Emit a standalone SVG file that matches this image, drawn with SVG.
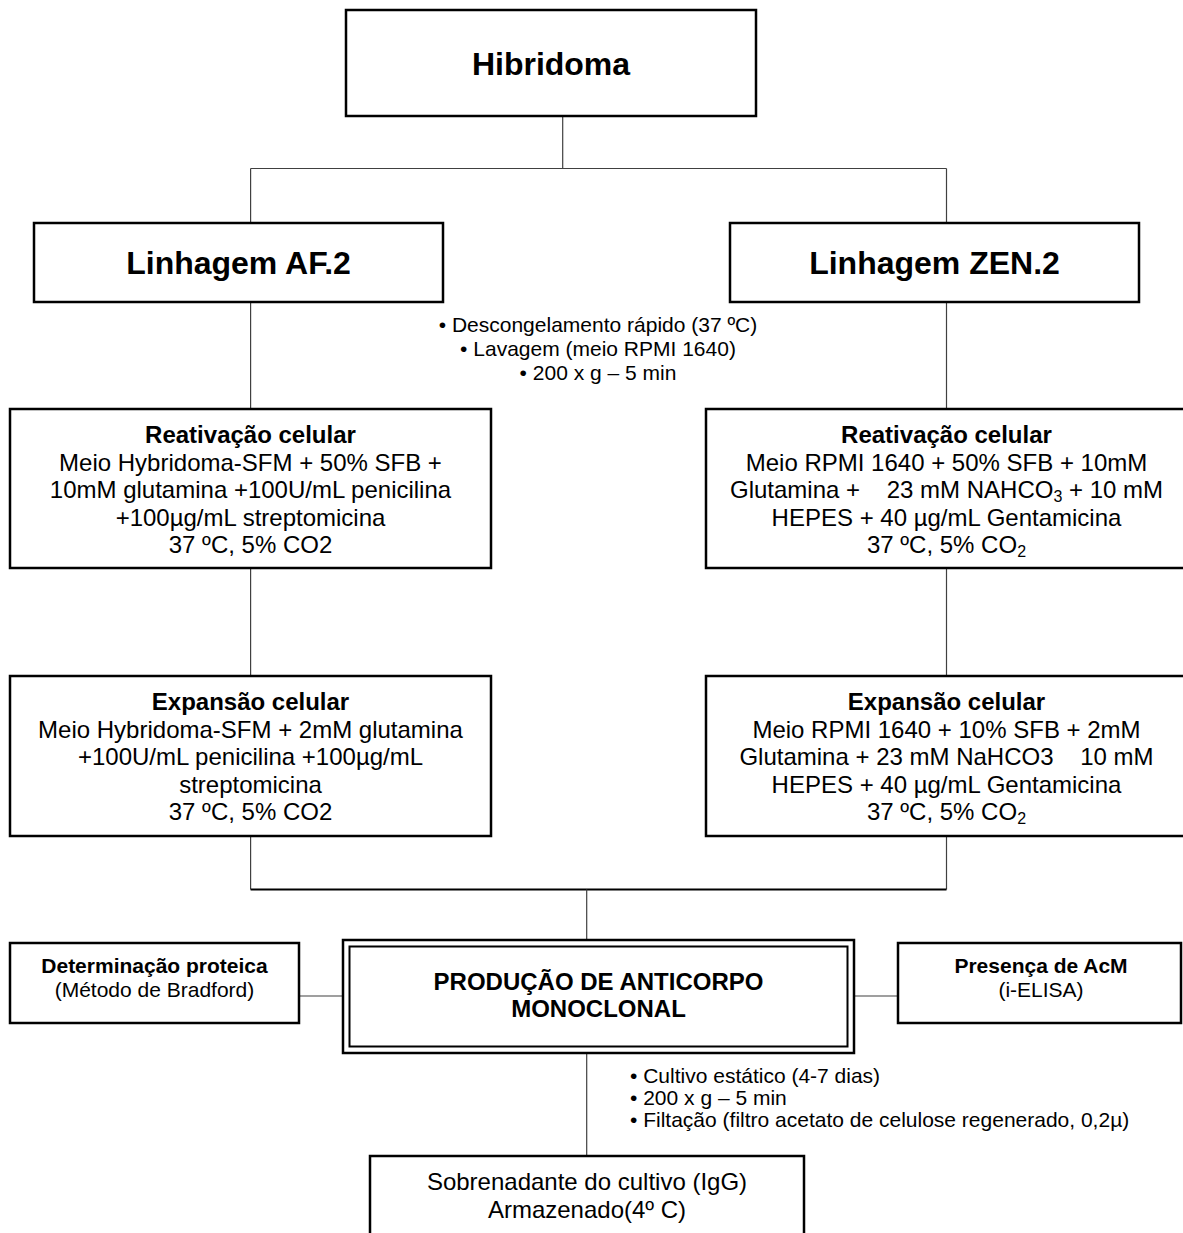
<svg xmlns="http://www.w3.org/2000/svg" width="1183" height="1233" viewBox="0 0 1183 1233">
<style>
  .box { fill: #fff; stroke: #000; stroke-width: 2.5; }
  .conn { stroke: #404040; stroke-width: 1.2; fill: none; }
  .conn-thick { stroke: #000; stroke-width: 2; fill: none; }
  text { font-family: "Liberation Sans", Arial, sans-serif; fill: #000; }
  .t32 { font-size: 32px; font-weight: bold; text-anchor: middle; }
  .b24 { font-size: 24px; font-weight: bold; text-anchor: middle; }
  .r24 { font-size: 24px; text-anchor: middle; }
  .b21 { font-size: 21px; font-weight: bold; text-anchor: middle; }
  .r21 { font-size: 21px; text-anchor: middle; }
  .l21 { font-size: 21px; }
  .sub { font-size: 16px; }
</style>
<rect width="1183" height="1233" fill="#fff"/>

<g id="connectors">
  <line class="conn" x1="562.7" y1="116" x2="562.7" y2="168.5"/>
  <line class="conn" x1="250.6" y1="168.5" x2="946.5" y2="168.5"/>
  <line class="conn" x1="250.6" y1="168.5" x2="250.6" y2="223"/>
  <line class="conn" x1="946.5" y1="168.5" x2="946.5" y2="223"/>
  <line class="conn" x1="250.6" y1="302" x2="250.6" y2="409"/>
  <line class="conn" x1="946.5" y1="302" x2="946.5" y2="409"/>
  <line class="conn" x1="250.6" y1="568" x2="250.6" y2="676"/>
  <line class="conn" x1="946.5" y1="568" x2="946.5" y2="676"/>
  <line class="conn" x1="250.6" y1="836" x2="250.6" y2="889.5"/>
  <line class="conn" x1="946.5" y1="836" x2="946.5" y2="889.5"/>
  <line class="conn-thick" x1="250.6" y1="889.5" x2="946.5" y2="889.5"/>
  <line class="conn" x1="586.7" y1="889.5" x2="586.7" y2="940"/>
  <line class="conn" x1="586.7" y1="1053" x2="586.7" y2="1156"/>
  <line class="conn" x1="299" y1="996" x2="343" y2="996"/>
  <line class="conn" x1="854" y1="996" x2="898" y2="996"/>
</g>

<g id="hibridoma">
  <rect class="box" x="346" y="10" width="410" height="106"/>
  <text class="t32" x="551" y="75">Hibridoma</text>
</g>

<g id="linhagem-af2">
  <rect class="box" x="34" y="223" width="409" height="79"/>
  <text class="t32" x="238.5" y="274">Linhagem AF.2</text>
</g>

<g id="linhagem-zen2">
  <rect class="box" x="730" y="223" width="409" height="79"/>
  <text class="t32" x="934.5" y="274">Linhagem ZEN.2</text>
</g>

<g id="descongelamento">
  <text class="r21" x="598" y="332">• Descongelamento rápido (37 ºC)</text>
  <text class="r21" x="598" y="356">• Lavagem (meio RPMI 1640)</text>
  <text class="r21" x="598" y="380">• 200 x g – 5 min</text>
</g>

<g id="reativacao-af2">
  <rect class="box" x="10" y="409" width="481" height="159"/>
  <text class="b24" x="250.5" y="442.5">Reativação celular</text>
  <text class="r24" x="250.5" y="470.5">Meio Hybridoma-SFM + 50% SFB +</text>
  <text class="r24" x="250.5" y="498">10mM glutamina +100U/mL penicilina</text>
  <text class="r24" x="250.5" y="525.5">+100µg/mL streptomicina</text>
  <text class="r24" x="250.5" y="553">37 ºC, 5% CO2</text>
</g>

<g id="reativacao-zen2">
  <rect class="box" x="706" y="409" width="481" height="159"/>
  <text class="b24" x="946.5" y="442.5">Reativação celular</text>
  <text class="r24" x="946.5" y="470.5">Meio RPMI 1640 + 50% SFB + 10mM</text>
  <text class="r24" x="946.5" y="498" xml:space="preserve">Glutamina +    23 mM NAHCO<tspan class="sub" dy="4">3</tspan><tspan dy="-4"> + 10 mM</tspan></text>
  <text class="r24" x="946.5" y="525.5">HEPES + 40 µg/mL Gentamicina</text>
  <text class="r24" x="946.5" y="553">37 ºC, 5% CO<tspan class="sub" dy="4">2</tspan></text>
</g>

<g id="expansao-af2">
  <rect class="box" x="10" y="676" width="481" height="160"/>
  <text class="b24" x="250.5" y="710">Expansão celular</text>
  <text class="r24" x="250.5" y="737.5">Meio Hybridoma-SFM + 2mM glutamina</text>
  <text class="r24" x="250.5" y="765">+100U/mL penicilina +100µg/mL</text>
  <text class="r24" x="250.5" y="792.5">streptomicina</text>
  <text class="r24" x="250.5" y="820">37 ºC, 5% CO2</text>
</g>

<g id="expansao-zen2">
  <rect class="box" x="706" y="676" width="481" height="160"/>
  <text class="b24" x="946.5" y="710">Expansão celular</text>
  <text class="r24" x="946.5" y="737.5">Meio RPMI 1640 + 10% SFB + 2mM</text>
  <text class="r24" x="946.5" y="765" xml:space="preserve">Glutamina + 23 mM NaHCO3    10 mM</text>
  <text class="r24" x="946.5" y="792.5">HEPES + 40 µg/mL Gentamicina</text>
  <text class="r24" x="946.5" y="820">37 ºC, 5% CO<tspan class="sub" dy="4">2</tspan></text>
</g>

<g id="determinacao">
  <rect class="box" x="10" y="943" width="289" height="80"/>
  <text class="b21" x="154.5" y="973">Determinação proteica</text>
  <text class="r21" x="154.5" y="997">(Método de Bradford)</text>
</g>

<g id="producao">
  <rect class="box" x="343" y="940" width="511" height="113"/>
  <rect fill="none" stroke="#000" stroke-width="2" x="349.5" y="946.5" width="498" height="100"/>
  <text class="b24" x="598.5" y="989.5">PRODUÇÃO DE ANTICORPO</text>
  <text class="b24" x="598.5" y="1017">MONOCLONAL</text>
</g>

<g id="presenca">
  <rect class="box" x="898" y="943" width="283" height="80"/>
  <text class="b21" x="1041" y="973">Presença de AcM</text>
  <text class="r21" x="1041" y="997">(i-ELISA)</text>
</g>

<g id="etapas-cultivo">
  <text class="l21" x="630" y="1083">• Cultivo estático (4-7 dias)</text>
  <text class="l21" x="630" y="1105">• 200 x g – 5 min</text>
  <text class="l21" x="630" y="1127">• Filtação (filtro acetato de celulose regenerado, 0,2µ)</text>
</g>

<g id="sobrenadante">
  <rect class="box" x="370" y="1156" width="434" height="100"/>
  <text class="r24" x="587" y="1190">Sobrenadante do cultivo (IgG)</text>
  <text class="r24" x="587" y="1217.5">Armazenado(4º C)</text>
</g>
</svg>
